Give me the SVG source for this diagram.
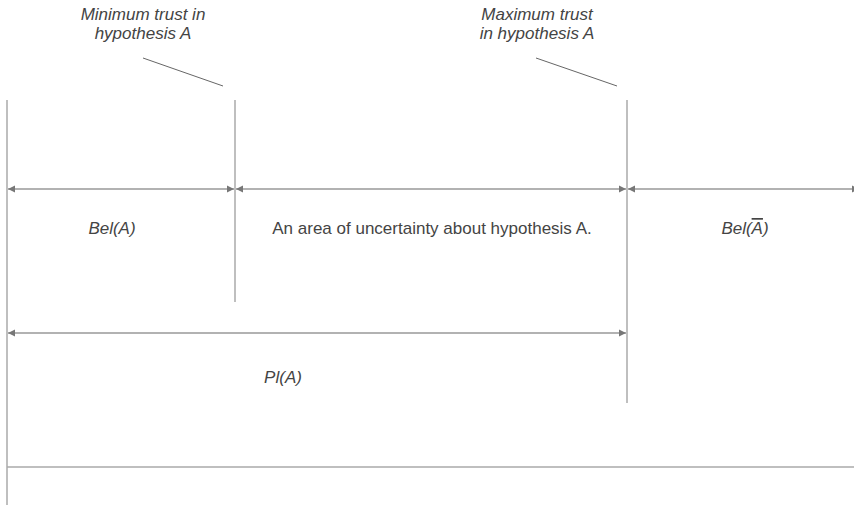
<svg xmlns="http://www.w3.org/2000/svg" width="854" height="505" viewBox="0 0 854 505">
<style>
.t{font-family:"Liberation Sans",Arial,sans-serif;font-size:17px;fill:#444}
.i{font-style:italic}
.v{stroke:#aaa;stroke-width:1.5;fill:none}
.a{stroke:#999;stroke-width:1.5;fill:none;marker-start:url(#ah);marker-end:url(#ah)}
.d{stroke:#666;stroke-width:1;fill:none}
</style>
<defs>
<marker id="ah" viewBox="0 0 10 10" refX="10" refY="5" markerWidth="7" markerHeight="8" orient="auto-start-reverse" markerUnits="userSpaceOnUse">
<path d="M0,0 L10,5 L0,10 z" fill="#777"/>
</marker>
</defs>
<rect width="854" height="505" fill="#fff"/>
<g id="verticals">
<line class="v" x1="7" y1="100" x2="7" y2="505"/>
<line class="v" x1="235" y1="100" x2="235" y2="302"/>
<line class="v" x1="627" y1="100" x2="627" y2="403"/>
<line class="v" x1="7" y1="467" x2="854" y2="467"/>
</g>
<g id="connectors">
<line class="a" x1="8" y1="189" x2="234" y2="189"/>
<line class="a" x1="236" y1="189" x2="626" y2="189"/>
<line class="a" x1="628" y1="189" x2="859" y2="189"/>
<line class="a" x1="8" y1="333" x2="626" y2="333"/>
<line class="d" x1="143" y1="58" x2="223" y2="86"/>
<line class="d" x1="536" y1="58" x2="617" y2="86"/>
</g>
<g id="label-min">
<text class="t i" x="143" y="20" text-anchor="middle">Minimum trust in</text>
<text class="t i" x="143" y="39" text-anchor="middle">hypothesis A</text>
</g>
<g id="label-max">
<text class="t i" x="537" y="20" text-anchor="middle">Maximum trust</text>
<text class="t i" x="537" y="39" text-anchor="middle">in hypothesis A</text>
</g>
<g id="bel-a"><text class="t i" x="112" y="234" text-anchor="middle">Bel(A)</text></g>
<g id="uncertainty"><text class="t" x="432" y="234" text-anchor="middle">An area of uncertainty about hypothesis A.</text></g>
<g id="bel-not-a"><text class="t i" x="745" y="234" text-anchor="middle">Bel(<tspan style="text-decoration:overline">A</tspan>)</text></g>
<g id="pl-a"><text class="t i" x="283" y="383" text-anchor="middle">Pl(A)</text></g>
</svg>
